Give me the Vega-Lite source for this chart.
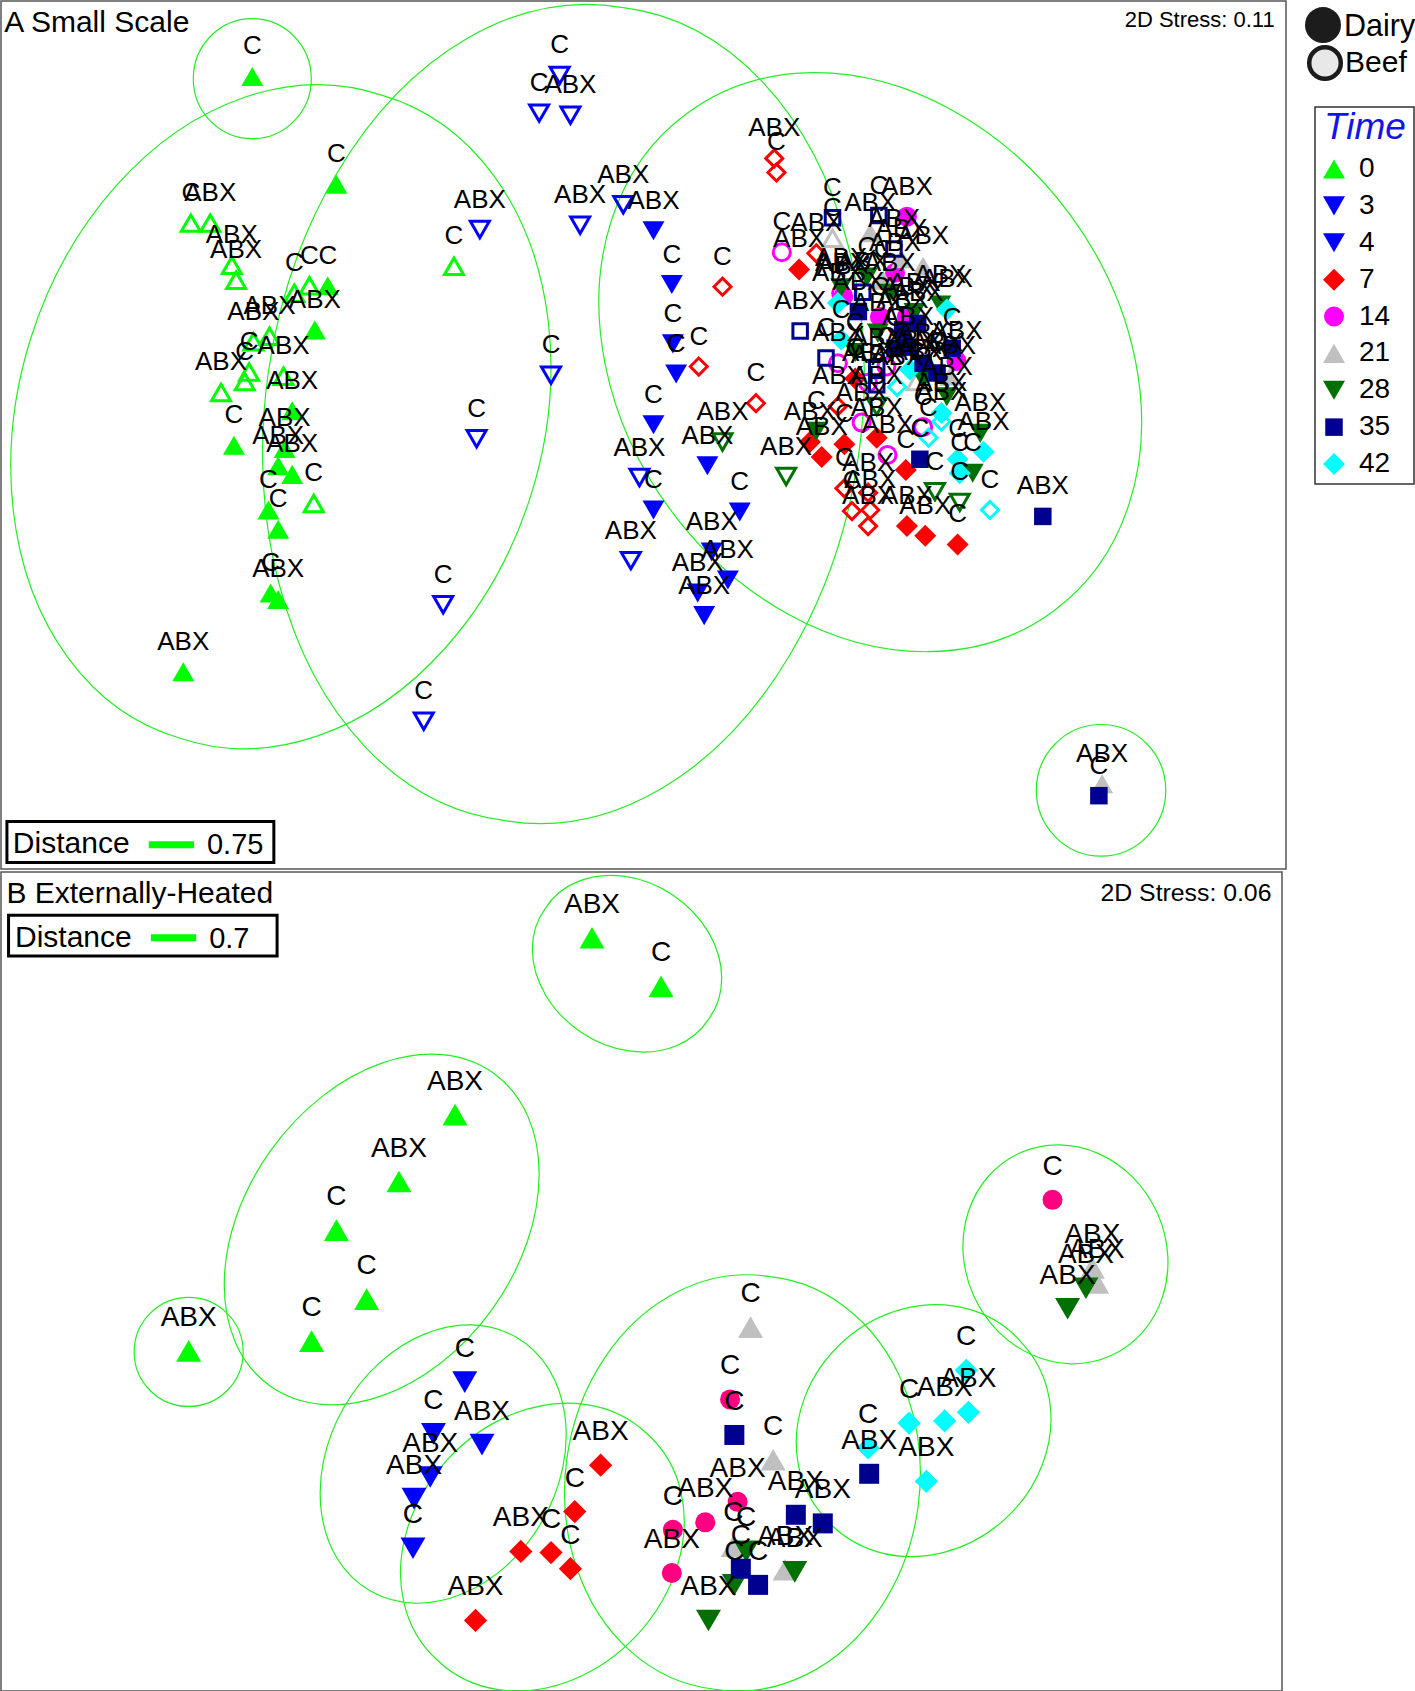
{"$schema":"https://vega.github.io/schema/vega-lite/v6.json","padding":0,"background":"white","spacing":1,"config":{"view":{"stroke":"#555555","strokeWidth":1.5},"axis":{"disable":true},"text":{"font":"Liberation Sans"}},
"resolve":{"scale":{"fill":"independent","stroke":"independent","shape":"independent","size":"independent"}},
"datasets":{
"a":[
{"time":"0","type":"Dairy","x":234,"y":71,"label":"C"},{"time":"0","type":"Dairy","x":312,"y":171,"label":"C"},{"time":"0","type":"Dairy","x":304,"y":265,"label":"C"},{"time":"0","type":"Dairy","x":292,"y":306,"label":"ABX"},{"time":"0","type":"Dairy","x":271,"y":381,"label":"ABX"},{"time":"0","type":"Dairy","x":217,"y":413,"label":"C"},{"time":"0","type":"Dairy","x":264,"y":416,"label":"ABX"},{"time":"0","type":"Dairy","x":258,"y":432,"label":"ABX"},{"time":"0","type":"Dairy","x":271,"y":440,"label":"ABX"},{"time":"0","type":"Dairy","x":249,"y":473,"label":"C"},{"time":"0","type":"Dairy","x":258,"y":491,"label":"C"},{"time":"0","type":"Dairy","x":251,"y":550,"label":"C"},{"time":"0","type":"Dairy","x":258,"y":556,"label":"ABX"},{"time":"0","type":"Dairy","x":170,"y":623,"label":"ABX"},
{"time":"0","type":"Beef","x":177,"y":207,"label":"C"},{"time":"0","type":"Beef","x":195,"y":207,"label":"ABX"},{"time":"0","type":"Beef","x":215,"y":246,"label":"ABX"},{"time":"0","type":"Beef","x":219,"y":260,"label":"ABX"},{"time":"0","type":"Beef","x":273,"y":272,"label":"C"},{"time":"0","type":"Beef","x":287,"y":265,"label":"C"},{"time":"0","type":"Beef","x":235,"y":317,"label":"ABX"},{"time":"0","type":"Beef","x":250,"y":312,"label":"ABX"},{"time":"0","type":"Beef","x":231,"y":345,"label":"C"},{"time":"0","type":"Beef","x":227,"y":354,"label":"C"},{"time":"0","type":"Beef","x":205,"y":364,"label":"ABX"},{"time":"0","type":"Beef","x":263,"y":349,"label":"ABX"},{"time":"0","type":"Beef","x":291,"y":467,"label":"C"},{"time":"0","type":"Beef","x":421,"y":247,"label":"C"},
{"time":"3","type":"Beef","x":519,"y":70,"label":"C"},{"time":"3","type":"Beef","x":500,"y":105,"label":"C"},{"time":"3","type":"Beef","x":529,"y":107,"label":"ABX"},{"time":"3","type":"Beef","x":445,"y":213,"label":"ABX"},{"time":"3","type":"Beef","x":511,"y":348,"label":"C"},{"time":"3","type":"Beef","x":442,"y":407,"label":"C"},{"time":"3","type":"Beef","x":411,"y":561,"label":"C"},{"time":"3","type":"Beef","x":393,"y":669,"label":"C"},
{"time":"4","type":"Beef","x":538,"y":209,"label":"ABX"},{"time":"4","type":"Beef","x":578,"y":190,"label":"ABX"},{"time":"4","type":"Beef","x":593,"y":443,"label":"ABX"},{"time":"4","type":"Beef","x":585,"y":520,"label":"ABX"},
{"time":"3","type":"Dairy","x":606,"y":214,"label":"ABX"},{"time":"3","type":"Dairy","x":623,"y":264,"label":"C"},{"time":"3","type":"Dairy","x":624,"y":319,"label":"C"},{"time":"3","type":"Dairy","x":627,"y":347,"label":"C"},{"time":"3","type":"Dairy","x":606,"y":394,"label":"C"},{"time":"3","type":"Dairy","x":606,"y":473,"label":"C"},
{"time":"4","type":"Dairy","x":656,"y":432,"label":"ABX"},{"time":"4","type":"Dairy","x":686,"y":475,"label":"C"},{"time":"4","type":"Dairy","x":660,"y":512,"label":"ABX"},{"time":"4","type":"Dairy","x":675,"y":538,"label":"ABX"},{"time":"4","type":"Dairy","x":647,"y":550,"label":"ABX"},{"time":"4","type":"Dairy","x":653,"y":571,"label":"ABX"},
{"time":"7","type":"Dairy","x":741,"y":250,"label":"ABX"},{"time":"7","type":"Dairy","x":793,"y":351,"label":"C"},{"time":"7","type":"Dairy","x":751,"y":410,"label":"ABX"},{"time":"7","type":"Dairy","x":762,"y":424,"label":"ABX"},{"time":"7","type":"Dairy","x":783,"y":412,"label":"C"},{"time":"7","type":"Dairy","x":813,"y":406,"label":"ABX"},{"time":"7","type":"Dairy","x":840,"y":436,"label":"C"},{"time":"7","type":"Dairy","x":841,"y":488,"label":"ABX"},{"time":"7","type":"Dairy","x":858,"y":497,"label":"ABX"},{"time":"7","type":"Dairy","x":888,"y":505,"label":"C"},
{"time":"7","type":"Beef","x":718,"y":147,"label":"ABX"},{"time":"7","type":"Beef","x":720,"y":160,"label":"C"},{"time":"7","type":"Beef","x":670,"y":266,"label":"C"},{"time":"7","type":"Beef","x":648,"y":340,"label":"C"},{"time":"7","type":"Beef","x":701,"y":374,"label":"C"},{"time":"7","type":"Beef","x":757,"y":235,"label":"ABX"},{"time":"7","type":"Beef","x":777,"y":377,"label":"ABX"},{"time":"7","type":"Beef","x":783,"y":453,"label":"C"},{"time":"7","type":"Beef","x":805,"y":457,"label":"ABX"},{"time":"7","type":"Beef","x":790,"y":474,"label":"C"},{"time":"7","type":"Beef","x":807,"y":473,"label":"ABX"},{"time":"7","type":"Beef","x":805,"y":488,"label":"ABX"},
{"time":"14","type":"Beef","x":725,"y":234,"label":"C"},{"time":"14","type":"Beef","x":780,"y":272,"label":"ABX"},{"time":"14","type":"Beef","x":777,"y":337,"label":"ABX"},{"time":"14","type":"Beef","x":805,"y":355,"label":"ABX"},{"time":"14","type":"Beef","x":822,"y":340,"label":"C"},{"time":"14","type":"Beef","x":799,"y":392,"label":"ABX"},{"time":"14","type":"Beef","x":856,"y":396,"label":"C"},{"time":"14","type":"Beef","x":823,"y":422,"label":"ABX"},
{"time":"14","type":"Dairy","x":841,"y":201,"label":"ABX"},{"time":"14","type":"Dairy","x":830,"y":253,"label":"ABX"},{"time":"14","type":"Dairy","x":816,"y":294,"label":"C"},{"time":"14","type":"Dairy","x":841,"y":294,"label":"ABX"},{"time":"14","type":"Dairy","x":887,"y":335,"label":"ABX"},{"time":"14","type":"Dairy","x":782,"y":275,"label":"ABX"},
{"time":"21","type":"Beef","x":772,"y":221,"label":"C"},{"time":"21","type":"Beef","x":850,"y":354,"label":"ABX"},
{"time":"21","type":"Dairy","x":807,"y":216,"label":"ABX"},{"time":"21","type":"Dairy","x":856,"y":247,"label":"ABX"},{"time":"21","type":"Dairy","x":819,"y":260,"label":"C"},{"time":"21","type":"Dairy","x":881,"y":349,"label":"ABX"},{"time":"21","type":"Dairy","x":836,"y":240,"label":"ABX"},{"time":"21","type":"Dairy","x":1022,"y":727,"label":"ABX"},
{"time":"28","type":"Dairy","x":825,"y":272,"label":"ABX"},{"time":"28","type":"Dairy","x":780,"y":267,"label":"ABX"},{"time":"28","type":"Dairy","x":872,"y":283,"label":"ABX"},{"time":"28","type":"Dairy","x":793,"y":327,"label":"C"},{"time":"28","type":"Dairy","x":814,"y":309,"label":"ABX"},{"time":"28","type":"Dairy","x":878,"y":368,"label":"ABX"},{"time":"28","type":"Dairy","x":856,"y":352,"label":"ABX"},{"time":"28","type":"Dairy","x":804,"y":257,"label":"C"},{"time":"28","type":"Dairy","x":757,"y":400,"label":"C"},{"time":"28","type":"Dairy","x":909,"y":402,"label":"ABX"},{"time":"28","type":"Dairy","x":902,"y":439,"label":"C"},{"time":"28","type":"Dairy","x":848,"y":290,"label":"ABX"},
{"time":"28","type":"Beef","x":729,"y":442,"label":"ABX"},{"time":"28","type":"Beef","x":813,"y":377,"label":"ABX"},{"time":"28","type":"Beef","x":867,"y":456,"label":"C"},{"time":"28","type":"Beef","x":890,"y":466,"label":"C"},{"time":"28","type":"Beef","x":670,"y":410,"label":"ABX"},
{"time":"42","type":"Dairy","x":912,"y":419,"label":"ABX"},{"time":"42","type":"Dairy","x":888,"y":426,"label":"C"},{"time":"42","type":"Dairy","x":890,"y":439,"label":"C"},{"time":"42","type":"Dairy","x":873,"y":383,"label":"ABX"},{"time":"42","type":"Dairy","x":780,"y":315,"label":"C"},{"time":"42","type":"Dairy","x":777,"y":281,"label":"ABX"},{"time":"42","type":"Dairy","x":878,"y":287,"label":"ABX"},{"time":"42","type":"Dairy","x":844,"y":343,"label":"ABX"},
{"time":"42","type":"Beef","x":918,"y":473,"label":"C"},{"time":"42","type":"Beef","x":861,"y":406,"label":"C"},{"time":"42","type":"Beef","x":873,"y":391,"label":"ABX"},{"time":"42","type":"Beef","x":832,"y":359,"label":"ABX"},
{"time":"35","type":"Beef","x":772,"y":202,"label":"C"},{"time":"35","type":"Beef","x":815,"y":200,"label":"C"},{"time":"35","type":"Beef","x":829,"y":231,"label":"ABX"},{"time":"35","type":"Beef","x":800,"y":271,"label":"ABX"},{"time":"35","type":"Beef","x":742,"y":307,"label":"ABX"},{"time":"35","type":"Beef","x":766,"y":332,"label":"C"},{"time":"35","type":"Beef","x":813,"y":341,"label":"ABX"},{"time":"35","type":"Beef","x":813,"y":357,"label":"ABX"},
{"time":"35","type":"Dairy","x":796,"y":289,"label":"ABX"},{"time":"35","type":"Dairy","x":830,"y":323,"label":"C"},{"time":"35","type":"Dairy","x":842,"y":322,"label":"ABX"},{"time":"35","type":"Dairy","x":837,"y":306,"label":"ABX"},{"time":"35","type":"Dairy","x":851,"y":300,"label":"ABX"},{"time":"35","type":"Dairy","x":883,"y":323,"label":"C"},{"time":"35","type":"Dairy","x":856,"y":337,"label":"ABX"},{"time":"35","type":"Dairy","x":869,"y":346,"label":"ABX"},{"time":"35","type":"Dairy","x":853,"y":426,"label":"C"},{"time":"35","type":"Dairy","x":967,"y":479,"label":"ABX"},{"time":"35","type":"Dairy","x":1019,"y":738,"label":"C"}
],
"b":[
{"time":"0","x":549,"y":870,"label":"ABX"},{"time":"0","x":613,"y":915,"label":"C"},{"time":"0","x":422,"y":1034,"label":"ABX"},{"time":"0","x":370,"y":1096,"label":"ABX"},{"time":"0","x":312,"y":1141,"label":"C"},{"time":"0","x":340,"y":1205,"label":"C"},{"time":"0","x":289,"y":1244,"label":"C"},{"time":"0","x":175,"y":1253,"label":"ABX"},
{"time":"3","x":431,"y":1282,"label":"C"},{"time":"3","x":402,"y":1330,"label":"C"},{"time":"3","x":447,"y":1340,"label":"ABX"},{"time":"4","x":399,"y":1370,"label":"ABX"},{"time":"4","x":384,"y":1390,"label":"ABX"},{"time":"4","x":383,"y":1436,"label":"C"},
{"time":"7","x":557,"y":1359,"label":"ABX"},{"time":"7","x":533,"y":1402,"label":"C"},{"time":"7","x":483,"y":1439,"label":"ABX"},{"time":"7","x":511,"y":1440,"label":"C"},{"time":"7","x":529,"y":1455,"label":"C"},{"time":"7","x":441,"y":1503,"label":"ABX"},
{"time":"14","x":976,"y":1113,"label":"C"},{"time":"14","x":677,"y":1298,"label":"C"},{"time":"14","x":684,"y":1393,"label":"ABX"},{"time":"14","x":654,"y":1412,"label":"ABX"},{"time":"14","x":624,"y":1419,"label":"C"},{"time":"14","x":623,"y":1459,"label":"ABX"},
{"time":"21","x":696,"y":1231,"label":"C"},{"time":"21","x":717,"y":1354,"label":"C"},{"time":"21","x":728,"y":1456,"label":"ABX"},{"time":"21","x":680,"y":1434,"label":"C"},{"time":"21","x":1013,"y":1176,"label":"ABX"},{"time":"21","x":1017,"y":1190,"label":"ABX"},
{"time":"28","x":692,"y":1439,"label":"C"},{"time":"28","x":737,"y":1458,"label":"ABX"},{"time":"28","x":681,"y":1470,"label":"C"},{"time":"28","x":657,"y":1503,"label":"ABX"},{"time":"28","x":1007,"y":1195,"label":"ABX"},{"time":"28","x":990,"y":1214,"label":"ABX"},
{"time":"35","x":681,"y":1331,"label":"C"},{"time":"35","x":738,"y":1405,"label":"ABX"},{"time":"35","x":763,"y":1413,"label":"ABX"},{"time":"35","x":806,"y":1367,"label":"ABX"},{"time":"35","x":687,"y":1455,"label":"C"},{"time":"35","x":703,"y":1470,"label":"C"},
{"time":"42","x":805,"y":1343,"label":"C"},{"time":"42","x":843,"y":1320,"label":"C"},{"time":"42","x":876,"y":1318,"label":"ABX"},{"time":"42","x":859,"y":1374,"label":"ABX"},{"time":"42","x":898,"y":1310,"label":"ABX"},{"time":"42","x":896,"y":1271,"label":"C"}
],
"legend":[{"time":"0","row":0},{"time":"3","row":1},{"time":"4","row":2},{"time":"7","row":3},{"time":"14","row":4},{"time":"21","row":5},{"time":"28","row":6},{"time":"35","row":7},{"time":"42","row":8}],
"one":[{"n":1}]
},
"vconcat":[
{"spacing":0,"hconcat":[
{"width":1285,"height":868,
"layer":[
{"data":{"values":[{"x":234,"y":73}]},"mark":{"type":"point","shape":"M-59,0A59,60 0 1 1 59,0A59,60 0 1 1 -59,0","size":4,"filled":false,"stroke":"#22ee22","strokeWidth":1.2,"opacity":1},"encoding":{"x":{"field":"x","type":"quantitative","scale":{"domain":[1,1192.5],"nice":false,"zero":false}},"y":{"field":"y","type":"quantitative","scale":{"domain":[806,1],"nice":false,"zero":false}}}},
{"data":{"values":[{"x":260.5,"y":386.5}]},"mark":{"type":"point","shape":"M-101.5,321.3A337,257.7 -72.46 1 1 101.5,-321.3A337,257.7 -72.46 1 1 -101.5,321.3","size":4,"filled":false,"stroke":"#22ee22","strokeWidth":1.2,"opacity":1},"encoding":{"x":{"field":"x","type":"quantitative"},"y":{"field":"y","type":"quantitative"}}},
{"data":{"values":[{"x":522.5,"y":384}]},"mark":{"type":"point","shape":"M-58.2,406.6A410.8,293.2 -81.85 1 1 58.2,-406.6A410.8,293.2 -81.85 1 1 -58.2,406.6","size":4,"filled":false,"stroke":"#22ee22","strokeWidth":1.2,"opacity":1},"encoding":{"x":{"field":"x","type":"quantitative"},"y":{"field":"y","type":"quantitative"}}},
{"data":{"values":[{"x":807,"y":336}]},"mark":{"type":"point","shape":"M-182.7,-249.2A309,247.6 53.75 1 1 182.7,249.2A309,247.6 53.75 1 1 -182.7,-249.2","size":4,"filled":false,"stroke":"#22ee22","strokeWidth":1.2,"opacity":1},"encoding":{"x":{"field":"x","type":"quantitative"},"y":{"field":"y","type":"quantitative"}}},
{"data":{"values":[{"x":1021,"y":733}]},"mark":{"type":"point","shape":"M-64.7,0A64.7,65.8 0 1 1 64.7,0A64.7,65.8 0 1 1 -64.7,0","size":4,"filled":false,"stroke":"#22ee22","strokeWidth":1.2,"opacity":1},"encoding":{"x":{"field":"x","type":"quantitative"},"y":{"field":"y","type":"quantitative"}}},
{"data":{"name":"a"},"transform":[{"calculate":"datum.type + datum.time","as":"group"}],"mark":{"type":"point","filled":true,"opacity":1},"encoding":{"x":{"field":"x","type":"quantitative"},"y":{"field":"y","type":"quantitative"},
"shape":{"field":"time","type":"nominal","legend":null,"scale":{"domain":["0","3","4","7","14","21","28","35","42"],"range":["triangle-up","triangle-down","triangle-down","diamond","circle","triangle-up","triangle-down","square","diamond"]}},
"fill":{"field":"time","type":"nominal","legend":null,"scale":{"domain":["0","3","4","7","14","21","28","35","42"],"range":["#00ff00","#0000ff","#0000ff","#ff0000","#ff00ff","#c0c0c0","#007000","#000090","#00ffff"]}},
"stroke":{"field":"time","type":"nominal","legend":null,"scale":{"domain":["0","3","4","7","14","21","28","35","42"],"range":["#00ff00","#0000ff","#0000ff","#ff0000","#ff00ff","#c0c0c0","#007000","#000090","#00ffff"]}},
"size":{"field":"group","type":"nominal","legend":null,"scale":{"type":"ordinal","domain":["Dairy0","Dairy3","Dairy4","Dairy7","Dairy14","Dairy21","Dairy28","Dairy35","Dairy42","Beef0","Beef3","Beef4","Beef7","Beef14","Beef21","Beef28","Beef35","Beef42"],"range":[484,484,484,484,400,484,484,306,484,361,361,361,289,289,361,361,210,289]}},
"fillOpacity":{"field":"type","type":"nominal","legend":null,"scale":{"type":"ordinal","domain":["Dairy","Beef"],"range":[1,0]}},
"strokeWidth":{"field":"type","type":"nominal","legend":null,"scale":{"type":"ordinal","domain":["Dairy","Beef"],"range":[0,3]}}}},
{"data":{"name":"a"},"mark":{"type":"text","font":"Liberation Sans","fontSize":26,"dy":-30,"color":"#000000"},"encoding":{"x":{"field":"x","type":"quantitative"},"y":{"field":"y","type":"quantitative"},"text":{"field":"label"}}},
{"data":{"name":"one"},"mark":{"type":"text","font":"Liberation Sans","fontSize":30,"align":"left","color":"#000000"},"encoding":{"x":{"datum":4},"y":{"datum":21},"text":{"value":"A Small Scale"}}},
{"data":{"name":"one"},"mark":{"type":"text","font":"Liberation Sans","fontSize":22,"align":"right","color":"#000000"},"encoding":{"x":{"datum":1182},"y":{"datum":19},"text":{"value":"2D Stress: 0.11"}}},
{"data":{"name":"one"},"mark":{"type":"rect","fill":"#ffffff","stroke":"#000000","strokeWidth":3},"encoding":{"x":{"datum":6.5},"x2":{"datum":254},"y":{"datum":762},"y2":{"datum":800}}},
{"data":{"name":"one"},"mark":{"type":"text","font":"Liberation Sans","fontSize":30,"align":"left","color":"#000000"},"encoding":{"x":{"datum":12},"y":{"datum":783},"text":{"value":"Distance"}}},
{"data":{"name":"one"},"mark":{"type":"rule","stroke":"#00ff00","strokeWidth":7},"encoding":{"x":{"datum":138},"x2":{"datum":180},"y":{"datum":783.5}}},
{"data":{"name":"one"},"mark":{"type":"text","font":"Liberation Sans","fontSize":29,"align":"left","color":"#000000"},"encoding":{"x":{"datum":192},"y":{"datum":784},"text":{"value":"0.75"}}}
]},
{"width":130,"height":868,"view":{"stroke":null},
"data":{"name":"legend"},
"layer":[
{"data":{"name":"one"},"mark":{"type":"rect","fill":"#ffffff","stroke":"#333333","strokeWidth":1.5},"encoding":{"x":{"datum":1315,"scale":{"domain":[1287,1417],"nice":false,"zero":false}},"x2":{"datum":1414},"y":{"datum":-1.681,"scale":{"domain":[18.983,-4.556],"nice":false,"zero":false}},"y2":{"datum":8.542}}},
{"data":{"name":"one"},"mark":{"type":"point","shape":"circle","filled":true,"opacity":1,"fill":"#1c1c1c","size":1296},"encoding":{"x":{"datum":1323},"y":{"datum":-3.905}}},
{"data":{"name":"one"},"mark":{"type":"point","shape":"circle","filled":true,"opacity":1,"fill":"#e8e8e8","stroke":"#1c1c1c","strokeWidth":4.5,"size":1000},"encoding":{"x":{"datum":1325},"y":{"datum":-2.875}}},
{"data":{"name":"one"},"mark":{"type":"text","font":"Liberation Sans","fontSize":30.5,"align":"left","color":"#000000"},"encoding":{"x":{"datum":1344},"y":{"datum":-3.85},"text":{"value":"Dairy"}}},
{"data":{"name":"one"},"mark":{"type":"text","font":"Liberation Sans","fontSize":30,"align":"left","color":"#000000"},"encoding":{"x":{"datum":1345},"y":{"datum":-2.875},"text":{"value":"Beef"}}},
{"data":{"name":"one"},"mark":{"type":"text","font":"Liberation Sans","fontSize":37,"fontStyle":"italic","align":"left","color":"#1414e6"},"encoding":{"x":{"datum":1324},"y":{"datum":-1.112},"text":{"value":"Time"}}},
{"mark":{"type":"point","filled":true,"opacity":1},"encoding":{"x":{"datum":1334},"y":{"field":"row","type":"quantitative"},
"shape":{"field":"time","type":"nominal","legend":null,"scale":{"domain":["0","3","4","7","14","21","28","35","42"],"range":["triangle-up","triangle-down","triangle-down","diamond","circle","triangle-up","triangle-down","square","diamond"]}},
"fill":{"field":"time","type":"nominal","legend":null,"scale":{"domain":["0","3","4","7","14","21","28","35","42"],"range":["#00ff00","#0000ff","#0000ff","#ff0000","#ff0080","#c0c0c0","#007000","#000090","#00ffff"]}},
"size":{"field":"time","type":"nominal","legend":null,"scale":{"type":"ordinal","domain":["0","3","4","7","14","21","28","35","42"],"range":[625,625,625,625,420,625,625,440,625]}}}},
{"mark":{"type":"text","font":"Liberation Sans","fontSize":28,"align":"left","color":"#000000"},"encoding":{"x":{"datum":1359},"y":{"field":"row","type":"quantitative"},"text":{"field":"time"}}}
]}
]},
{"width":1281,"height":819,
"layer":[
{"data":{"values":[{"x":581.5,"y":894}]},"mark":{"type":"point","shape":"M-81.9,-55A98.7,80.1 33.9 1 1 81.9,55A98.7,80.1 33.9 1 1 -81.9,-55","size":4,"filled":false,"stroke":"#22ee22","strokeWidth":1.2,"opacity":1},"encoding":{"x":{"field":"x","type":"quantitative","scale":{"domain":[1,1188.8],"nice":false,"zero":false}},"y":{"field":"y","type":"quantitative","scale":{"domain":[1568.4,809],"nice":false,"zero":false}}}},
{"data":{"values":[{"x":354,"y":1140.5}]},"mark":{"type":"point","shape":"M-111.9,156.3A192.2,136.2 -54.4 1 1 111.9,-156.3A192.2,136.2 -54.4 1 1 -111.9,156.3","size":4,"filled":false,"stroke":"#22ee22","strokeWidth":1.2,"opacity":1},"encoding":{"x":{"field":"x","type":"quantitative"},"y":{"field":"y","type":"quantitative"}}},
{"data":{"values":[{"x":175,"y":1254}]},"mark":{"type":"point","shape":"M-54.5,0A54.5,54.5 0 1 1 54.5,0A54.5,54.5 0 1 1 -54.5,0","size":4,"filled":false,"stroke":"#22ee22","strokeWidth":1.2,"opacity":1},"encoding":{"x":{"field":"x","type":"quantitative"},"y":{"field":"y","type":"quantitative"}}},
{"data":{"values":[{"x":411,"y":1358}]},"mark":{"type":"point","shape":"M-72.7,127A146.3,114.3 -60.2 1 1 72.7,-127A146.3,114.3 -60.2 1 1 -72.7,127","size":4,"filled":false,"stroke":"#22ee22","strokeWidth":1.2,"opacity":1},"encoding":{"x":{"field":"x","type":"quantitative"},"y":{"field":"y","type":"quantitative"}}},
{"data":{"values":[{"x":503,"y":1435}]},"mark":{"type":"point","shape":"M-104.6,113.4A154.3,126.9 -47.3 1 1 104.6,-113.4A154.3,126.9 -47.3 1 1 -104.6,113.4","size":4,"filled":false,"stroke":"#22ee22","strokeWidth":1.2,"opacity":1},"encoding":{"x":{"field":"x","type":"quantitative"},"y":{"field":"y","type":"quantitative"}}},
{"data":{"values":[{"x":688.5,"y":1375.5}]},"mark":{"type":"point","shape":"M-27.7,206.3A208.2,173.5 -82.35 1 1 27.7,-206.3A208.2,173.5 -82.35 1 1 -27.7,206.3","size":4,"filled":false,"stroke":"#22ee22","strokeWidth":1.2,"opacity":1},"encoding":{"x":{"field":"x","type":"quantitative"},"y":{"field":"y","type":"quantitative"}}},
{"data":{"values":[{"x":856.5,"y":1327}]},"mark":{"type":"point","shape":"M-98.3,87.6A131.7,117.6 -41.7 1 1 98.3,-87.6A131.7,117.6 -41.7 1 1 -98.3,87.6","size":4,"filled":false,"stroke":"#22ee22","strokeWidth":1.2,"opacity":1},"encoding":{"x":{"field":"x","type":"quantitative"},"y":{"field":"y","type":"quantitative"}}},
{"data":{"values":[{"x":988,"y":1163.5}]},"mark":{"type":"point","shape":"M-45.2,-101.5A111.1,100.7 66 1 1 45.2,101.5A111.1,100.7 66 1 1 -45.2,-101.5","size":4,"filled":false,"stroke":"#22ee22","strokeWidth":1.2,"opacity":1},"encoding":{"x":{"field":"x","type":"quantitative"},"y":{"field":"y","type":"quantitative"}}},
{"data":{"name":"b"},"mark":{"type":"point","filled":true,"opacity":1,"strokeWidth":0},"encoding":{"x":{"field":"x","type":"quantitative"},"y":{"field":"y","type":"quantitative"},
"shape":{"field":"time","type":"nominal","legend":null,"scale":{"domain":["0","3","4","7","14","21","28","35","42"],"range":["triangle-up","triangle-down","triangle-down","diamond","circle","triangle-up","triangle-down","square","diamond"]}},
"fill":{"field":"time","type":"nominal","legend":null,"scale":{"domain":["0","3","4","7","14","21","28","35","42"],"range":["#00ff00","#0000ff","#0000ff","#ff0000","#ff0080","#c0c0c0","#007000","#000090","#00ffff"]}},
"size":{"field":"time","type":"nominal","legend":null,"scale":{"type":"ordinal","domain":["0","3","4","7","14","21","28","35","42"],"range":[625,625,625,540,400,625,625,400,540]}}}},
{"data":{"name":"b"},"mark":{"type":"text","font":"Liberation Sans","fontSize":28,"dy":-33,"color":"#000000"},"encoding":{"x":{"field":"x","type":"quantitative"},"y":{"field":"y","type":"quantitative"},"text":{"field":"label"}}},
{"data":{"name":"one"},"mark":{"type":"text","font":"Liberation Sans","fontSize":30,"align":"left","color":"#000000"},"encoding":{"x":{"datum":6},"y":{"datum":829},"text":{"value":"B Externally-Heated"}}},
{"data":{"name":"one"},"mark":{"type":"text","font":"Liberation Sans","fontSize":24.8,"align":"right","color":"#000000"},"encoding":{"x":{"datum":1179},"y":{"datum":829},"text":{"value":"2D Stress: 0.06"}}},
{"data":{"name":"one"},"mark":{"type":"rect","fill":"#ffffff","stroke":"#000000","strokeWidth":3},"encoding":{"x":{"datum":8},"x2":{"datum":257},"y":{"datum":849},"y2":{"datum":887}}},
{"data":{"name":"one"},"mark":{"type":"text","font":"Liberation Sans","fontSize":30,"align":"left","color":"#000000"},"encoding":{"x":{"datum":14},"y":{"datum":870},"text":{"value":"Distance"}}},
{"data":{"name":"one"},"mark":{"type":"rule","stroke":"#00ff00","strokeWidth":7},"encoding":{"x":{"datum":140},"x2":{"datum":182},"y":{"datum":870}}},
{"data":{"name":"one"},"mark":{"type":"text","font":"Liberation Sans","fontSize":29,"align":"left","color":"#000000"},"encoding":{"x":{"datum":194},"y":{"datum":871},"text":{"value":"0.7"}}}
]}
]}
